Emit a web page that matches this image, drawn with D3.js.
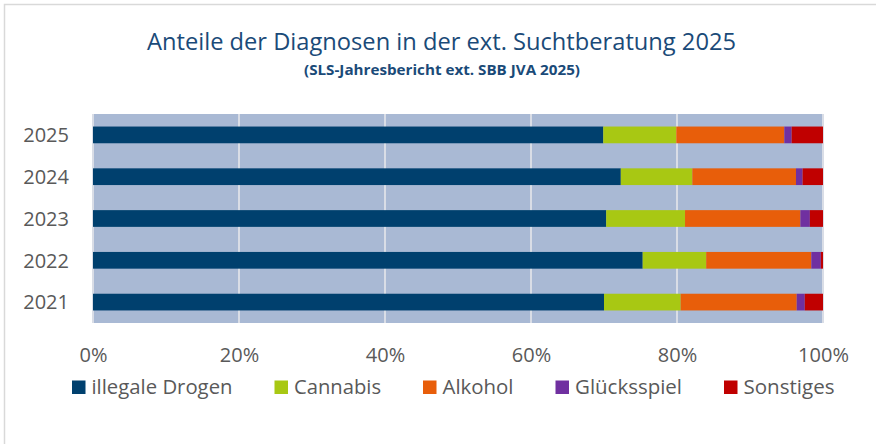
<!DOCTYPE html>
<html>
<head>
<meta charset="utf-8">
<script src="https://cdn.jsdelivr.net/npm/d3@7/dist/d3.min.js"></script>
<style>
  html, body { margin: 0; padding: 0; background: #ffffff; }
  svg { display: block; }
</style>
</head>
<body>
<script>
// ---- data ----
const years = ["2025", "2024", "2023", "2022", "2021"];
const seriesNames = ["illegale Drogen", "Cannabis", "Alkohol", "Glücksspiel", "Sonstiges"];
const illegaleDrogen = [69.9, 72.3, 70.3, 75.3, 70.0];
const cannabis       = [10.0,  9.8, 10.8,  8.7, 10.5];
const alkohol        = [14.8, 14.2, 15.8, 14.4, 15.9];
const gluecksspiel   = [ 1.0,  0.9,  1.3,  1.3,  1.1];
const sonstiges      = [ 4.3,  2.8,  1.8,  0.3,  2.5];
const xTickValues = [0, 0.2, 0.4, 0.6, 0.8, 1.0];
const titleText = "Anteile der Diagnosen in der ext. Suchtberatung 2025";
const subtitleText = "(SLS-Jahresbericht ext. SBB JVA 2025)";

const seriesValues = [illegaleDrogen, cannabis, alkohol, gluecksspiel, sonstiges];
const colors = ["#00406E", "#A8C813", "#E85E0A", "#7030A0", "#C00000"];

const table = years.map((y, i) => {
  const row = { year: y };
  seriesNames.forEach((s, j) => { row[s] = seriesValues[j][i]; });
  return row;
});

const W = 876, H = 444;
const svg = d3.select("body").append("svg").attr("width", W).attr("height", H);
const font = "'Open Sans', 'DejaVu Sans', sans-serif";

// outer frame (only left/top visible)
svg.append("path")
  .attr("d", `M4.5,${H + 5} L4.5,4.5 L${W + 5},4.5`)
  .attr("fill", "none").attr("stroke", "#D9D9D9").attr("stroke-width", 1.5);

// title
svg.append("text")
  .attr("x", 147).attr("y", 49.5)
  .attr("font-family", font).attr("font-size", 23.5)
  .attr("fill", "#1A4A78")
  .attr("textLength", 589).attr("lengthAdjust", "spacingAndGlyphs")
  .text(titleText);
svg.append("text")
  .attr("x", 304).attr("y", 75)
  .attr("font-family", font).attr("font-size", 15).attr("font-weight", "bold")
  .attr("fill", "#1A4A78")
  .attr("textLength", 276).attr("lengthAdjust", "spacingAndGlyphs")
  .text(subtitleText);

// scales
const plot = { left: 93, right: 823, top: 114, bottom: 323 };
const x = d3.scaleLinear().domain([0, 1]).range([plot.left, plot.right]);
const y = d3.scaleBand().domain(years).range([plot.top, plot.bottom])
  .paddingInner(0.6).paddingOuter(0.3);

// plot background
svg.append("rect")
  .attr("x", plot.left).attr("y", plot.top)
  .attr("width", plot.right - plot.left).attr("height", plot.bottom - plot.top)
  .attr("fill", "#A9B9D4");

// gridlines
svg.append("g").selectAll("line").data(xTickValues).join("line")
  .attr("x1", d => x(d)).attr("x2", d => x(d))
  .attr("y1", plot.top).attr("y2", plot.bottom)
  .attr("stroke", "#D9DDE6").attr("stroke-width", 2);

// stacked bars
const stack = d3.stack().keys(seriesNames).offset(d3.stackOffsetExpand);
const stacked = stack(table);
svg.append("g").selectAll("g").data(stacked).join("g")
  .attr("fill", (d, i) => colors[i])
  .selectAll("rect").data(d => d).join("rect")
  .attr("x", d => x(d[0]))
  .attr("y", d => y(d.data.year))
  .attr("width", d => Math.max(0, x(d[1]) - x(d[0])))
  .attr("height", y.bandwidth());

// y axis labels
const yAxis = d3.axisLeft(y).tickSize(0).tickPadding(24);
const gy = svg.append("g").attr("transform", `translate(${plot.left},0)`).call(yAxis);
gy.select(".domain").remove();
gy.selectAll("text")
  .attr("font-family", font).attr("font-size", 20).attr("fill", "#595959")
  .attr("dy", "0.36em");

// x axis labels
const xAxis = d3.axisBottom(x).tickValues(xTickValues).tickFormat(d3.format(".0%"))
  .tickSize(0).tickPadding(0);
const gx = svg.append("g").attr("transform", `translate(0,${plot.bottom})`).call(xAxis);
gx.select(".domain").remove();
gx.selectAll("text")
  .attr("font-family", font).attr("font-size", 20).attr("fill", "#595959")
  .attr("dy", 0).attr("y", 38.5);

// legend
const legendWidths = [141, 87, 71, 107, 91];
const legend = svg.append("g");
let lx = 72;
seriesNames.forEach((s, i) => {
  legend.append("rect")
    .attr("x", lx).attr("y", 380.5).attr("width", 13.5).attr("height", 13.5)
    .attr("fill", colors[i]);
  legend.append("text")
    .attr("x", lx + 19.5).attr("y", 394)
    .attr("font-family", font).attr("font-size", 20).attr("fill", "#595959")
    .attr("textLength", legendWidths[i]).attr("lengthAdjust", "spacingAndGlyphs")
    .text(s);
  lx += 19.5 + legendWidths[i] + 42;
});
</script>
</body>
</html>
